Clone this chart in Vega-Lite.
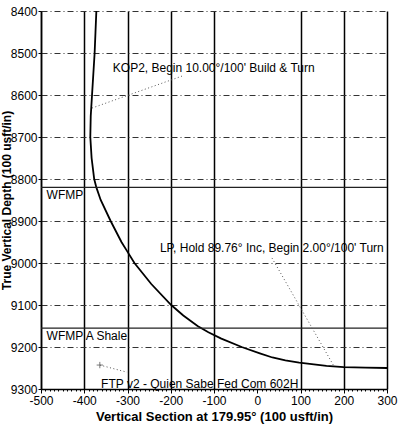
{
  "$schema": "https://vega.github.io/schema/vega-lite/v6.json",
  "width": 346,
  "height": 378,
  "autosize": {"type": "none"},
  "padding": {"left": 41, "top": 11, "right": 19, "bottom": 50},
  "background": "white",
  "config": {
    "view": {"stroke": null},
    "font": "Liberation Sans",
    "text": {"font": "Liberation Sans"}
  },
  "datasets": {
    "path": [
      {"vs": -372, "tvd": 8400},
      {"vs": -374, "tvd": 8450},
      {"vs": -376, "tvd": 8500},
      {"vs": -379, "tvd": 8550},
      {"vs": -382, "tvd": 8600},
      {"vs": -385, "tvd": 8650},
      {"vs": -386, "tvd": 8700},
      {"vs": -383, "tvd": 8750},
      {"vs": -377, "tvd": 8800},
      {"vs": -372, "tvd": 8820},
      {"vs": -362, "tvd": 8850},
      {"vs": -339, "tvd": 8900},
      {"vs": -314, "tvd": 8950},
      {"vs": -302, "tvd": 8970},
      {"vs": -284, "tvd": 9000},
      {"vs": -245, "tvd": 9050},
      {"vs": -199, "tvd": 9100},
      {"vs": -171, "tvd": 9125},
      {"vs": -138, "tvd": 9150},
      {"vs": -113, "tvd": 9165},
      {"vs": -83, "tvd": 9180},
      {"vs": -36, "tvd": 9200},
      {"vs": 6, "tvd": 9215},
      {"vs": 35, "tvd": 9225},
      {"vs": 65, "tvd": 9232},
      {"vs": 97, "tvd": 9237},
      {"vs": 160, "tvd": 9245},
      {"vs": 200, "tvd": 9248},
      {"vs": 250, "tvd": 9249},
      {"vs": 300, "tvd": 9250}
    ],
    "formations": [
      {"name": "WFMP", "tvd": 8820},
      {"name": "WFMP A Shale", "tvd": 9155}
    ],
    "labels": [
      {"text": "WFMP", "vs": -487, "tvd": 8838},
      {"text": "WFMP A Shale", "vs": -487, "tvd": 9174},
      {"text": "KOP2, Begin 10.00°/100' Build & Turn", "vs": -334, "tvd": 8536},
      {"text": "LP, Hold 89.76° Inc, Begin 2.00°/100' Turn", "vs": -225, "tvd": 8964},
      {"text": "FTP v2 - Quien Sabe Fed Com 602H", "vs": -361, "tvd": 9288}
    ],
    "leaders": [
      {"vs": -382, "tvd": 8631, "vs2": -174, "tvd2": 8555},
      {"vs": 34, "tvd": 8988, "vs2": 177, "tvd2": 9245},
      {"vs": -364, "tvd": 9243, "vs2": -301, "tvd2": 9260}
    ],
    "markers": [
      {"vs": -364, "tvd": 9243}
    ]
  },
  "layer": [
    {
      "data": {"name": "path"},
      "mark": {"type": "line", "color": "black", "strokeWidth": 1.8},
      "encoding": {
        "x": {
          "field": "vs", "type": "quantitative",
          "scale": {"domain": [-500, 300], "nice": false, "zero": false},
          "axis": {
            "title": "Vertical Section at 179.95° (100 usft/in)",
            "titleFont": "Liberation Sans", "titleFontSize": 13, "titleFontWeight": "bold", "titleColor": "black",
            "titlePadding": 4,
            "tickCount": 80,
            "labelExpr": "datum.value % 100 === 0 ? toString(datum.value) : ''",
            "labelOverlap": false, "labelFlush": false,
            "labelFont": "Liberation Sans", "labelFontSize": 12, "labelColor": "black", "labelPadding": 2,
            "domainColor": "black", "domainWidth": 1.5,
            "tickColor": "black", "tickWidth": 1,
            "tickSize": {"condition": {"test": "datum.value % 100 === 0", "value": 4}, "value": 2},
            "grid": true,
            "gridColor": "black", "gridWidth": 1.5,
            "gridOpacity": {"condition": {"test": "datum.value % 100 === 0 && datum.value !== 0", "value": 1}, "value": 0}
          }
        },
        "y": {
          "field": "tvd", "type": "quantitative",
          "scale": {"domain": [8400, 9300], "reverse": true, "nice": false, "zero": false},
          "axis": {
            "title": "True Vertical Depth (100 usft/in)",
            "titleFont": "Liberation Sans", "titleFontSize": 12, "titleFontWeight": "bold", "titleColor": "black",
            "titlePadding": -3,
            "tickCount": 9,
            "format": "d",
            "labelFont": "Liberation Sans", "labelFontSize": 12, "labelColor": "black", "labelPadding": 1,
            "labelFlush": false,
            "domainColor": "black", "domainWidth": 1.5,
            "tickColor": "black", "tickSize": 3,
            "grid": true, "gridColor": "#333333", "gridWidth": 1, "gridDash": [6, 3, 1, 3]
          }
        },
        "order": {"field": "tvd", "type": "quantitative"}
      }
    },
    {
      "data": {"name": "formations"},
      "mark": {"type": "rule", "color": "#222222", "strokeWidth": 1.2},
      "encoding": {
        "y": {"field": "tvd", "type": "quantitative"}
      }
    },
    {
      "data": {"name": "leaders"},
      "mark": {"type": "rule", "color": "#555555", "strokeWidth": 1, "strokeDash": [1, 2.5]},
      "encoding": {
        "x": {"field": "vs", "type": "quantitative"},
        "y": {"field": "tvd", "type": "quantitative"},
        "x2": {"field": "vs2"},
        "y2": {"field": "tvd2"}
      }
    },
    {
      "data": {"name": "markers"},
      "mark": {"type": "point", "shape": "M-1,0H1M0,-1V1", "size": 40, "filled": false, "color": "#444444", "strokeWidth": 1},
      "encoding": {
        "x": {"field": "vs", "type": "quantitative"},
        "y": {"field": "tvd", "type": "quantitative"}
      }
    },
    {
      "data": {"name": "labels"},
      "mark": {"type": "text", "align": "left", "baseline": "middle", "fontSize": 12, "font": "Liberation Sans", "color": "black"},
      "encoding": {
        "x": {"field": "vs", "type": "quantitative"},
        "y": {"field": "tvd", "type": "quantitative"},
        "text": {"field": "text"}
      }
    }
  ]
}
